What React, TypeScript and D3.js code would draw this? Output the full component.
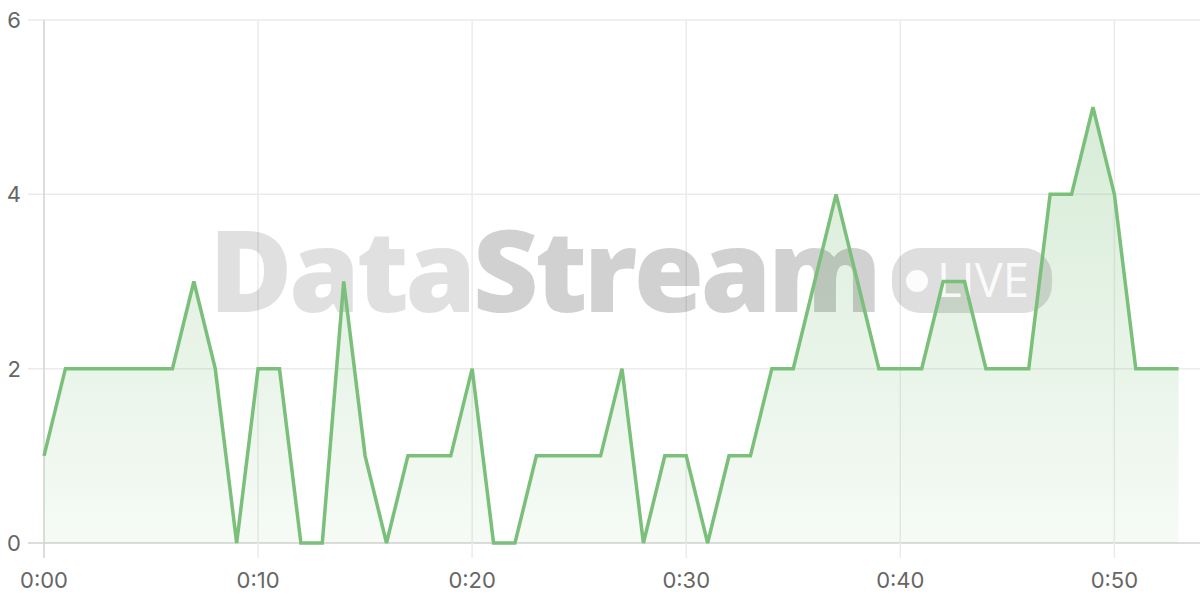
import React, { useEffect, useRef } from 'react';
import * as d3 from 'd3';

// one reading per minute, 0:00 .. 0:53
const counts = [
  1, 2, 2, 2, 2, 2, 2, 3, 2, 0,
  2, 2, 0, 0, 3, 1, 0, 1, 1, 1,
  2, 0, 0, 1, 1, 1, 1, 2, 0, 1,
  1, 0, 1, 1, 2, 2, 3, 4, 3, 2,
  2, 2, 3, 3, 2, 2, 2, 4, 4, 5,
  4, 2, 2, 2,
];
const xTickValues = [0, 10, 20, 30, 40, 50];
const xTickLabels = ['0:00', '0:10', '0:20', '0:30', '0:40', '0:50'];
const yTickValues = [0, 2, 4, 6];

const LINE = '#7abf7a';
const GRID = '#ebebeb';
const AXIS = '#d2d2d2';
const LABEL = '#666';
const FONT = 'Inter, "Liberation Sans", sans-serif';

export default function App() {
  const svgRef = useRef<SVGSVGElement>(null);

  useEffect(() => {
    if (!svgRef.current) return;
    const root = d3.select(svgRef.current);
    root.selectAll('*').remove();

    const width = 1200;
    const height = 600;
    const margin = { top: 20, right: 0, bottom: 57, left: 44 };

    root.attr('width', width).attr('height', height);

    const x = d3.scaleLinear().domain([0, 54]).range([margin.left, width - margin.right]);
    const y = d3.scaleLinear().domain([0, 6]).range([height - margin.bottom, margin.top]);

    // gradient for the area
    const defs = root.append('defs');
    const grad = defs.append('linearGradient')
      .attr('id', 'areaFill')
      .attr('x1', 0).attr('y1', 0).attr('x2', 0).attr('y2', 1);
    grad.append('stop').attr('offset', '0%').attr('stop-color', LINE).attr('stop-opacity', 0.3);
    grad.append('stop').attr('offset', '100%').attr('stop-color', LINE).attr('stop-opacity', 0.07);

    // horizontal grid
    root.append('g')
      .selectAll('line')
      .data(yTickValues)
      .enter()
      .append('line')
      .attr('x1', margin.left - 16)
      .attr('x2', width)
      .attr('y1', d => y(d))
      .attr('y2', d => y(d))
      .attr('stroke', d => (d === 0 ? AXIS : GRID))
      .attr('stroke-width', 1.5);

    // vertical grid
    root.append('g')
      .selectAll('line')
      .data(xTickValues)
      .enter()
      .append('line')
      .attr('x1', d => x(d))
      .attr('x2', d => x(d))
      .attr('y1', margin.top)
      .attr('y2', y(0) + 15)
      .attr('stroke', d => (d === 0 ? AXIS : GRID))
      .attr('stroke-width', 1.5);

    // area
    const area = d3.area<number>()
      .x((_, i) => x(i))
      .y0(y(0))
      .y1(d => y(d));
    root.append('path')
      .datum(counts)
      .attr('d', area)
      .attr('fill', 'url(#areaFill)');

    // watermark
    const wm = root.append('g');
    const txt = wm.append('text')
      .attr('x', 209)
      .attr('y', 312)
      .attr('font-family', '"Open Sans", sans-serif')
      .attr('font-weight', 800)
      .attr('font-size', 114)
      .attr('letter-spacing', -3.6);
    txt.append('tspan').attr('fill', '#000').attr('fill-opacity', 0.12).text('Data');
    txt.append('tspan').attr('fill', '#000').attr('fill-opacity', 0.18).text('Stream');

    wm.append('rect')
      .attr('x', 892).attr('y', 248)
      .attr('width', 160).attr('height', 65)
      .attr('rx', 28)
      .attr('fill', '#000').attr('fill-opacity', 0.13);
    wm.append('circle')
      .attr('cx', 917).attr('cy', 281).attr('r', 11)
      .attr('fill', '#fff').attr('fill-opacity', 0.9);
    wm.append('text')
      .attr('x', 937).attr('y', 297)
      .attr('font-family', '"Open Sans", sans-serif')
      .attr('font-weight', 500)
      .attr('font-size', 47)
      .attr('fill', '#fff').attr('fill-opacity', 0.9)
      .text('LIVE');

    // line
    const line = d3.line<number>()
      .x((_, i) => x(i))
      .y(d => y(d));
    root.append('path')
      .datum(counts)
      .attr('d', line)
      .attr('fill', 'none')
      .attr('stroke', LINE)
      .attr('stroke-width', 3.5)
      .attr('stroke-linejoin', 'miter');

    // y labels
    root.append('g')
      .selectAll('text')
      .data(yTickValues)
      .enter()
      .append('text')
      .attr('x', 21)
      .attr('y', d => y(d))
      .attr('dy', '0.36em')
      .attr('text-anchor', 'end')
      .attr('font-family', FONT)
      .attr('font-size', 22)
      .attr('fill', LABEL)
      .text(d => d);

    // x labels
    root.append('g')
      .selectAll('text')
      .data(xTickValues)
      .enter()
      .append('text')
      .attr('x', d => x(d))
      .attr('y', 588)
      .attr('text-anchor', 'middle')
      .attr('font-family', FONT)
      .attr('font-size', 22)
      .attr('fill', LABEL)
      .text((_, i) => xTickLabels[i]);
  }, []);

  return (
    <div style={{ position: 'absolute', left: 0, top: 0, width: 1200, height: 600, background: '#fff' }}>
      <svg ref={svgRef} style={{ display: 'block' }}></svg>
    </div>
  );
}
